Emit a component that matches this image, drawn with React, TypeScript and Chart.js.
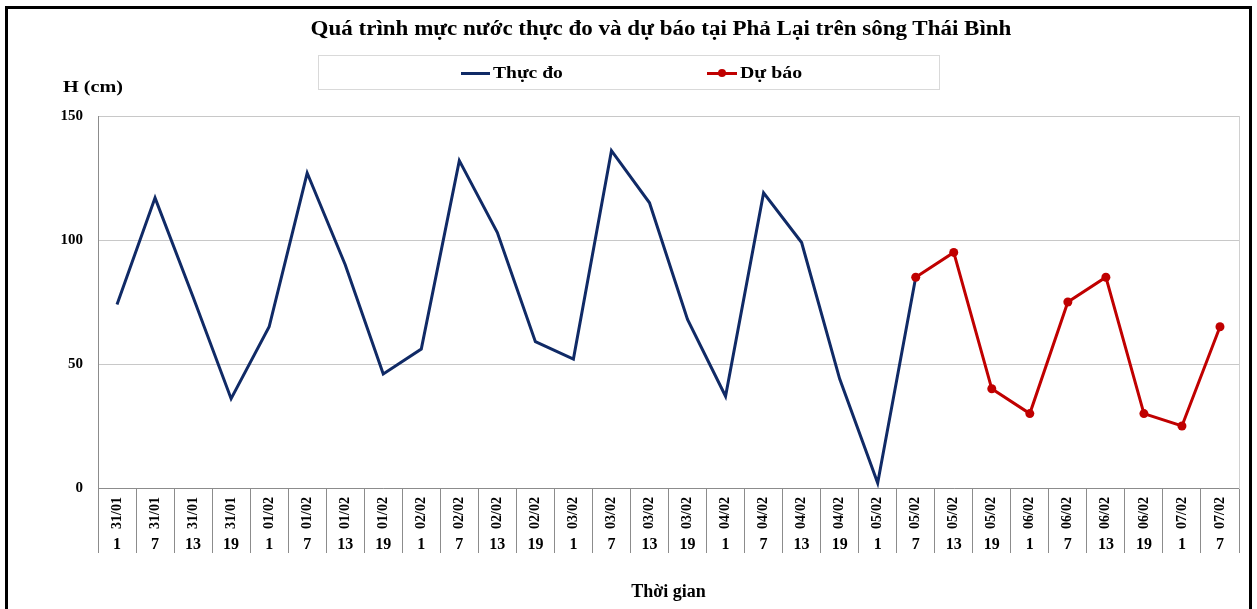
import React, { useEffect, useRef } from 'react';
import { Chart, registerables } from 'chart.js';

Chart.register(...registerables);

const dateLabels = [
  '31/01', '31/01', '31/01', '31/01',
  '01/02', '01/02', '01/02', '01/02',
  '02/02', '02/02', '02/02', '02/02',
  '03/02', '03/02', '03/02', '03/02',
  '04/02', '04/02', '04/02', '04/02',
  '05/02', '05/02', '05/02', '05/02',
  '06/02', '06/02', '06/02', '06/02',
  '07/02', '07/02',
];
const hourLabels = [
  '1', '7', '13', '19', '1', '7', '13', '19', '1', '7', '13', '19',
  '1', '7', '13', '19', '1', '7', '13', '19', '1', '7', '13', '19',
  '1', '7', '13', '19', '1', '7',
];
const observed: (number | null)[] = [
  74, 117, 77, 36, 65, 127, 90, 46, 56, 132, 103, 59, 52, 136, 115, 68,
  37, 119, 99, 44, 2, 85, null, null, null, null, null, null, null, null,
];
const forecast: (number | null)[] = [
  null, null, null, null, null, null, null, null, null, null, null, null,
  null, null, null, null, null, null, null, null, null,
  85, 95, 40, 30, 75, 85, 30, 25, 65,
];
const yTicks = [0, 50, 100, 150];

const chartTitle = 'Quá trình mực nước thực đo và dự báo tại Phả Lại trên sông Thái Bình';
const observedName = 'Thực đo';
const forecastName = 'Dự báo';
const yTitle = 'H (cm)';
const xTitle = 'Thời gian';

const FONT = "'Liberation Serif', 'Times New Roman', serif";
const NAVY = '#102a66';
const RED = '#c00000';

export default function App() {
  const canvasRef = useRef<HTMLCanvasElement | null>(null);

  useEffect(() => {
    if (!canvasRef.current) return;
    const chart = new Chart(canvasRef.current, {
      type: 'line',
      data: {
        labels: dateLabels,
        datasets: [
          {
            label: observedName,
            data: observed,
            borderColor: NAVY,
            backgroundColor: NAVY,
            borderWidth: 3,
            pointRadius: 0,
            pointHoverRadius: 0,
            tension: 0,
            order: 1,
            xAxisID: 'x',
            yAxisID: 'y',
          },
          {
            label: forecastName,
            data: forecast,
            borderColor: RED,
            backgroundColor: RED,
            borderWidth: 3,
            pointRadius: 4.5,
            pointBorderWidth: 0,
            pointBackgroundColor: RED,
            tension: 0,
            order: 0,
            xAxisID: 'x',
            yAxisID: 'y',
          },
        ],
      },
      options: {
        responsive: false,
        animation: false,
        events: [],
        layout: { padding: { left: 45.5, right: 18, top: 116, bottom: 0 } },
        plugins: {
          legend: { display: false },
          title: { display: false },
          tooltip: { enabled: false },
        },
        scales: {
          x: {
            type: 'category',
            position: 'bottom',
            weight: 0,
            offset: true,
            afterFit: (scale: any) => {
              scale.height = 41;
            },
            grid: {
              display: true,
              drawOnChartArea: false,
              drawTicks: true,
              tickLength: 41,
              offset: true,
              color: '#8c8c8c',
              lineWidth: 1,
            },
            border: { display: true, color: '#8c8c8c', width: 1 },
            ticks: {
              autoSkip: false,
              minRotation: 90,
              maxRotation: 90,
              padding: -32,
              color: '#000',
              font: { family: FONT, size: 14, weight: 'bold' },
            },
          },
          x2: {
            type: 'category',
            position: 'bottom',
            weight: 1,
            labels: hourLabels,
            offset: true,
            afterFit: (scale: any) => {
              scale.height = 80;
            },
            grid: {
              display: true,
              drawOnChartArea: false,
              drawTicks: true,
              tickLength: 24,
              offset: true,
              color: '#8c8c8c',
              lineWidth: 1,
            },
            border: { display: false },
            ticks: {
              autoSkip: false,
              maxRotation: 0,
              minRotation: 0,
              padding: -17.6,
              color: '#000',
              font: { family: FONT, size: 16, weight: 'bold' },
            },
            title: {
              display: true,
              text: xTitle,
              color: '#000',
              font: { family: FONT, size: 18, weight: 'bold' },
              padding: { top: 10, bottom: 6 },
            },
          },
          y: {
            type: 'linear',
            position: 'left',
            min: 0,
            max: 150,
            afterBuildTicks: (scale: any) => {
              scale.ticks = yTicks.map((v) => ({ value: v }));
            },
            grid: {
              display: true,
              drawTicks: false,
              color: '#c8c8c8',
              lineWidth: 1,
            },
            border: { display: true, color: '#8c8c8c', width: 1 },
            ticks: {
              padding: 15,
              color: '#000',
              font: { family: FONT, size: 15, weight: 'bold' },
            },
          },
          y2: {
            type: 'linear',
            position: 'right',
            grid: { display: false, drawTicks: false },
            border: { display: true, color: '#d0d0d0', width: 1 },
            ticks: { display: false },
          },
        },
      },
    });
    return () => chart.destroy();
  }, []);

  const textBase: React.CSSProperties = {
    position: 'absolute',
    fontFamily: FONT,
    fontWeight: 'bold',
    whiteSpace: 'nowrap',
    color: '#000',
    transformOrigin: 'left center',
  };

  return (
    <div
      style={{
        position: 'absolute',
        left: 0,
        top: 0,
        width: 1257,
        height: 609,
        overflow: 'hidden',
        background: '#fff',
      }}
    >
      <canvas ref={canvasRef} width={1257} height={609} style={{ position: 'absolute', left: 0, top: 0 }} />
      <div
        style={{
          ...textBase,
          left: 661,
          top: 18,
          fontSize: 20,
          lineHeight: '20px',
          transformOrigin: 'center center',
          transform: 'translateX(-50%) scaleX(1.15)',
        }}
      >
        {chartTitle}
      </div>
      <div
        style={{
          position: 'absolute',
          left: 318,
          top: 55,
          width: 622,
          height: 35,
          boxSizing: 'border-box',
          border: '1px solid #d9d9d9',
        }}
      />
      <div style={{ position: 'absolute', left: 461, top: 71.5, width: 29, height: 3, background: NAVY }} />
      <div style={{ ...textBase, left: 493, top: 64.6, fontSize: 16, lineHeight: '16px', transform: 'scaleX(1.22)' }}>
        {observedName}
      </div>
      <div style={{ position: 'absolute', left: 707, top: 71.5, width: 30, height: 3, background: RED }} />
      <div
        style={{
          position: 'absolute',
          left: 718,
          top: 69,
          width: 8,
          height: 8,
          borderRadius: '50%',
          background: RED,
        }}
      />
      <div style={{ ...textBase, left: 740, top: 64.6, fontSize: 16, lineHeight: '16px', transform: 'scaleX(1.24)' }}>
        {forecastName}
      </div>
      <div style={{ ...textBase, left: 63, top: 78.6, fontSize: 16, lineHeight: '16px', transform: 'scaleX(1.26)' }}>
        {yTitle}
      </div>
      <div
        style={{
          position: 'absolute',
          left: 5,
          top: 6,
          width: 1247,
          height: 700,
          boxSizing: 'border-box',
          border: '3px solid #000',
          pointerEvents: 'none',
        }}
      />
    </div>
  );
}
